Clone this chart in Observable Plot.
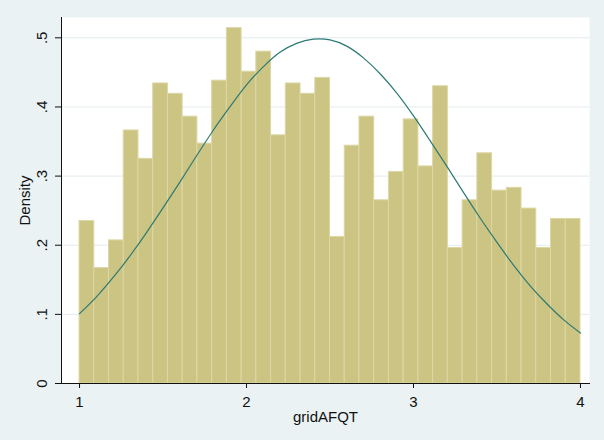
<!DOCTYPE html>
<html>
<head>
<meta charset="utf-8">
<script src="https://cdn.jsdelivr.net/npm/d3@7"></script>
<script src="https://cdn.jsdelivr.net/npm/@observablehq/plot@0.6"></script>
<style>
  html, body { margin: 0; padding: 0; background: #EAF2F3; }
  #chart { width: 604px; height: 440px; }
</style>
</head>
<body>
<div id="chart"></div>
<script>
// Histogram of gridAFQT: 34 equal-width bins from 1 to 4 (density)
const binStart = 1;
const binEnd = 4;
const densities = [
  0.235, 0.167, 0.207, 0.366, 0.325, 0.434, 0.419, 0.386, 0.347, 0.438,
  0.514, 0.451, 0.480, 0.359, 0.434, 0.419, 0.442, 0.212, 0.344, 0.386,
  0.265, 0.306, 0.382, 0.314, 0.430, 0.196, 0.265, 0.333, 0.279, 0.283,
  0.253, 0.196, 0.238, 0.238
];
// Normal density overlay, every 0.1
const curveX = [
  1.0, 1.1, 1.2, 1.3, 1.4, 1.5, 1.6, 1.7, 1.8, 1.9, 2.0,
  2.1, 2.2, 2.3, 2.4, 2.5, 2.6, 2.7, 2.8, 2.9, 3.0,
  3.1, 3.2, 3.3, 3.4, 3.5, 3.6, 3.7, 3.8, 3.9, 4.0
];
const curveY = [
  0.101, 0.125, 0.153, 0.184, 0.218, 0.254, 0.291, 0.329, 0.366, 0.400, 0.432,
  0.458, 0.479, 0.492, 0.498, 0.497, 0.488, 0.471, 0.448, 0.420, 0.387,
  0.351, 0.314, 0.276, 0.239, 0.204, 0.171, 0.141, 0.115, 0.092, 0.073
];
const xTicks = [1, 2, 3, 4];
const xTickLabels = ["1", "2", "3", "4"];
const yTicks = [0, 0.1, 0.2, 0.3, 0.4, 0.5];
const yTickLabels = ["0", ".1", ".2", ".3", ".4", ".5"];
const xTitle = "gridAFQT";
const yTitle = "Density";

const binW = (binEnd - binStart) / densities.length;
const bars = densities.map((d, i) => ({x1: binStart + i * binW, x2: binStart + (i + 1) * binW, y: d}));
const curve = curveX.map((x, i) => ({x, y: curveY[i]}));
const xt = xTicks.map((v, i) => ({v, t: xTickLabels[i]}));
const yt = yTicks.map((v, i) => ({v, t: yTickLabels[i]}));

const font = "'Liberation Sans', Arial, sans-serif";
const chart = Plot.plot({
  width: 604,
  height: 440,
  marginLeft: 61,
  marginRight: 15,
  marginTop: 17,
  marginBottom: 57,
  style: {background: "#EAF2F3", fontFamily: font, fontSize: "15px", color: "#111"},
  x: {domain: [0.892, 4.054], axis: null},
  y: {domain: [0, 0.5294], axis: null},
  marks: [
    Plot.frame({fill: "white", stroke: null}),
    Plot.ruleY(yTicks.filter(d => d > 0), {stroke: "#E2EBEE", strokeWidth: 1}),
    Plot.rectY(bars, {x1: "x1", x2: "x2", y: "y", fill: "#CCC482", stroke: "#DDD7A6", strokeWidth: 1}),
    Plot.line(curve, {x: "x", y: "y", curve: "natural", stroke: "#2C7A74", strokeWidth: 1.2}),
    Plot.frame({anchor: "left", stroke: "#111", strokeWidth: 1}),
    Plot.frame({anchor: "bottom", stroke: "#111", strokeWidth: 1}),
    Plot.axisY({ticks: yTicks, tickSize: 6, tickFormat: () => "", stroke: "#111", label: null}),
    Plot.axisX({ticks: xTicks, tickSize: 5, tickFormat: () => "", stroke: "#111", label: null}),
    Plot.text(yt, {y: "v", text: "t", frameAnchor: "left", dx: -19, rotate: -90, textAnchor: "middle", lineAnchor: "middle", fill: "#111"}),
    Plot.text(xt, {x: "v", text: "t", frameAnchor: "bottom", dy: 19, textAnchor: "middle", lineAnchor: "middle", fill: "#111"}),
    Plot.text([xTitle], {frameAnchor: "bottom", dy: 34, textAnchor: "middle", lineAnchor: "middle", fill: "#111"}),
    Plot.text([yTitle], {frameAnchor: "left", dx: -36, rotate: -90, textAnchor: "middle", lineAnchor: "middle", fill: "#111"})
  ]
});
document.getElementById("chart").appendChild(chart);
</script>
</body>
</html>
